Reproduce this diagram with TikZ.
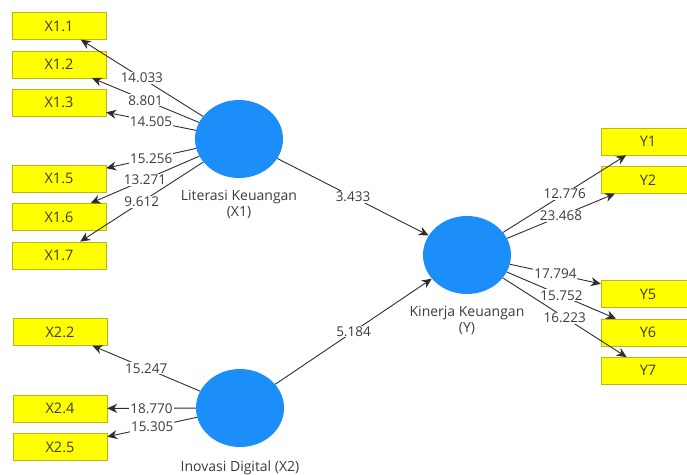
\documentclass[tikz,border=0pt]{standalone}
\usepackage{fontspec}
\setmainfont{Open Sans}
\usetikzlibrary{positioning, arrows.meta, shapes.geometric}
\definecolor{plsyellow}{RGB}{255,255,0}
\definecolor{plsborder}{RGB}{185,185,20}
\definecolor{plsblue}{RGB}{28,142,250}
\definecolor{plstext}{RGB}{60,60,60}
\definecolor{plsline}{RGB}{45,45,45}

\begin{document}
\begin{tikzpicture}[
x=1pt, y=-1pt,
node distance=11pt,
ind/.style={draw=plsborder, fill=plsyellow, minimum width=94pt, minimum height=27pt, inner sep=0pt, text=plstext, font=\fontsize{14.5}{16}\selectfont},
lat/.style={ellipse, fill=plsblue, minimum width=88pt, minimum height=78pt, inner sep=0pt},
latname/.style={inner sep=0pt, align=center, text=plstext, font=\fontsize{14}{16}\selectfont},
val/.style={fill=white, inner sep=1pt, text=plstext, font=\fontsize{13.5}{15}\selectfont},
conn/.style={draw=plsline, line width=0.9pt, ->},
>={Stealth[length=10pt,width=9pt]}
]
\useasboundingbox (0,0) rectangle (687,474);

% latent variables
\node[lat] (x1) at (239,139) {};
\node[lat] (x2) at (240,408) {};
\node[lat] (y) at (467,255) {};

\node[latname, below=12pt of x1] (lx1) {Literasi Keuangan\\(X1)};
\node[latname, below=13pt of x2] (lx2) {Inovasi Digital (X2)};
\node[latname, below=12pt of y] (ly) {Kinerja Keuangan\\(Y)};

% X1 indicators
\node[ind] (x11) at (59,26) {X1.1};
\node[ind, below=of x11] (x12) {X1.2};
\node[ind, below=of x12] (x13) {X1.3};
\node[ind] (x15) at (59,178.5) {X1.5};
\node[ind, below=of x15] (x16) {X1.6};
\node[ind, below=of x16] (x17) {X1.7};

% X2 indicators
\node[ind] (x22) at (60,332) {X2.2};
\node[ind] (x24) at (60,408.5) {X2.4};
\node[ind, below=of x24] (x25) {X2.5};

% Y indicators
\node[ind] (y1) at (648,141.5) {Y1};
\node[ind, below=of y1] (y2) {Y2};
\node[ind] (y5) at (648,294) {Y5};
\node[ind, below=of y5] (y6) {Y6};
\node[ind, below=of y6] (y7) {Y7};

% outer loadings
\draw[conn] (x1) -- node[val] {14.033} (x11);
\draw[conn] (x1) -- node[val] {8.801} (x12);
\draw[conn] (x1) -- node[val] {14.505} (x13);
\draw[conn] (x1) -- node[val] {15.256} (x15);
\draw[conn] (x1) -- node[val] {13.271} (x16);
\draw[conn] (x1) -- node[val] {9.612} (x17);

\draw[conn] (x2) -- node[val] {15.247} (x22);
\draw[conn] (x2) -- node[val] {18.770} (x24);
\draw[conn] (x2) -- node[val] {15.305} (x25);

\draw[conn] (y) -- node[val] {12.776} (y1);
\draw[conn] (y) -- node[val] {23.468} (y2);
\draw[conn] (y) -- node[val] {17.794} (y5);
\draw[conn] (y) -- node[val] {15.752} (y6);
\draw[conn] (y) -- node[val] {16.223} (y7);

% inner model
\draw[conn] (x1) -- node[val] {3.433} (y);
\draw[conn] (x2) -- node[val] {5.184} (y);

\end{tikzpicture}
\end{document}
